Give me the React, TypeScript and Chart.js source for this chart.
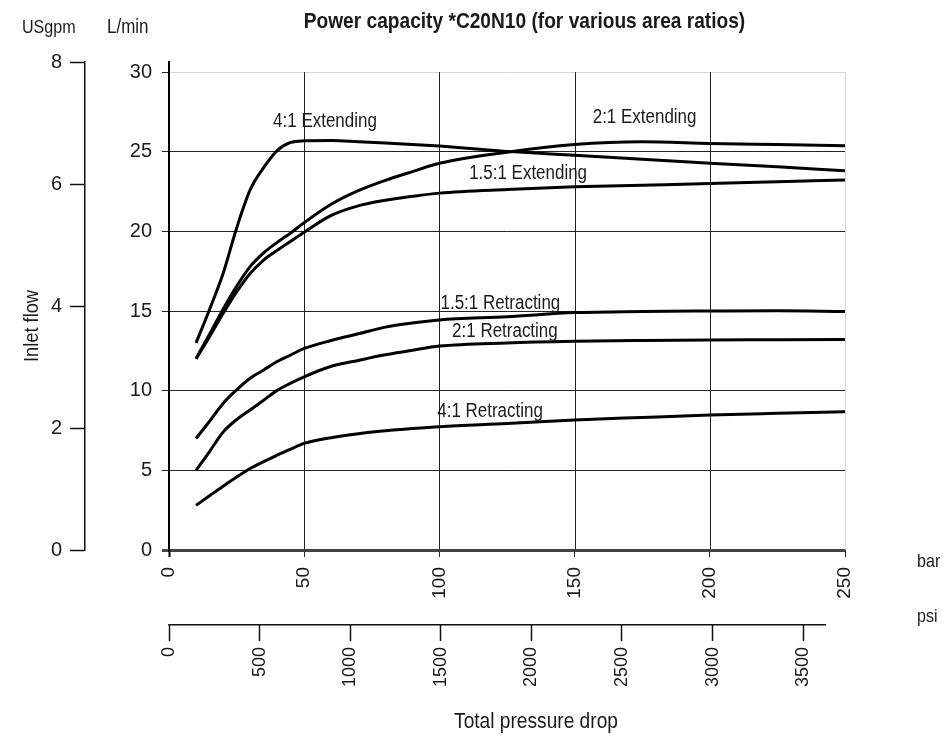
import React, { useEffect, useRef } from 'react';
import { Chart, registerables } from 'chart.js';

Chart.register(...registerables);

// ---- data (bar pressure drop -> inlet flow L/min) ----
const pressureBar = [10, 15, 20, 25, 30, 35, 40, 45, 50, 60, 70, 80, 90, 100, 125, 150, 175, 200, 225, 250];
const ext4to1 = [13.0, 15.1, 17.35, 20.2, 22.6, 24.0, 25.07, 25.58, 25.68, 25.7, 25.63, 25.55, 25.45, 25.35, 25.02, 24.77, 24.53, 24.28, 24.05, 23.8];
const ext2to1 = [12.0, 13.55, 15.11, 16.55, 17.79, 18.65, 19.31, 19.9, 20.55, 21.7, 22.55, 23.2, 23.75, 24.27, 24.97, 25.45, 25.62, 25.52, 25.45, 25.38];
const ext15to1 = [12.0, 13.39, 14.84, 16.2, 17.36, 18.2, 18.81, 19.38, 19.95, 21.0, 21.6, 21.95, 22.2, 22.4, 22.63, 22.8, 22.9, 23.0, 23.12, 23.23];
const ret15to1 = [7.0, 8.08, 9.2, 10.05, 10.78, 11.3, 11.83, 12.24, 12.65, 13.15, 13.57, 13.99, 14.25, 14.44, 14.64, 14.9, 14.97, 15.0, 15.02, 14.97];
const ret2to1 = [5.0, 6.18, 7.4, 8.18, 8.79, 9.4, 10.02, 10.47, 10.87, 11.53, 11.9, 12.25, 12.54, 12.8, 13.0, 13.1, 13.15, 13.18, 13.2, 13.22];
const ret4to1 = [2.8, 3.4, 4.0, 4.58, 5.12, 5.55, 5.96, 6.33, 6.69, 7.05, 7.3, 7.48, 7.62, 7.74, 7.94, 8.16, 8.32, 8.47, 8.58, 8.68];

const seriesNames = ['4:1 Extending', '2:1 Extending', '1.5:1 Extending', '1.5:1 Retracting', '2:1 Retracting', '4:1 Retracting'];
const seriesValues = [ext4to1, ext2to1, ext15to1, ret15to1, ret2to1, ret4to1];

// curve label anchors in data units (bar, L/min)
const labelBar = [38.5, 156.7, 111.0, 100.4, 104.7, 99.2];
const labelFlow = [26.57, 26.78, 23.27, 15.11, 13.35, 8.37];

// axis ticks
const barTicks = [0, 50, 100, 150, 200, 250];
const psiTicks = [0, 500, 1000, 1500, 2000, 2500, 3000, 3500];
const psiMax = 3731;
const psiLineEnd = 3627;
const flowMax = 30.63;
const gpmMax = 8;

const FONT = "'Liberation Sans', Arial, sans-serif";
const TEXT = '#1a1a1a';
const SQUEEZE = 0.87;

function squeezedText(ctx: any, text: string, x: number, y: number, align: 'left' | 'center') {
  ctx.save();
  ctx.translate(x, y);
  ctx.scale(SQUEEZE, 1);
  ctx.textAlign = align;
  ctx.fillText(text, 0, 0);
  ctx.restore();
}

const decorPlugin = {
  id: 'decor',
  beforeDatasetsDraw(chart: any) {
    const { ctx, scales } = chart;
    const x = scales.x, y = scales.y, psi = scales.psi;
    ctx.save();
    const yTop = y.getPixelForValue(30);
    const yBot = y.getPixelForValue(0);
    barTicks.forEach((v) => {
      if (v === 0) return;
      const px = Math.round(x.getPixelForValue(v)) + 0.5;
      ctx.strokeStyle = v === 250 ? '#d6d6d6' : '#222';
      ctx.lineWidth = 1;
      ctx.beginPath();
      ctx.moveTo(px, yTop);
      ctx.lineTo(px, yBot - 1);
      ctx.stroke();
    });
    // psi axis line
    ctx.strokeStyle = '#111';
    ctx.lineWidth = 1.5;
    ctx.beginPath();
    ctx.moveTo(psi.getPixelForValue(0) - 0.75, psi.top + 0.75);
    ctx.lineTo(psi.getPixelForValue(psiLineEnd), psi.top + 0.75);
    ctx.stroke();
    ctx.restore();
  },
  afterDraw(chart: any) {
    const { ctx, scales } = chart;
    const x = scales.x, y = scales.y;
    ctx.save();
    ctx.fillStyle = TEXT;
    ctx.textBaseline = 'alphabetic';
    // curve labels
    ctx.font = `19.5px ${FONT}`;
    seriesNames.forEach((name, i) => {
      squeezedText(ctx, name, x.getPixelForValue(labelBar[i]), y.getPixelForValue(labelFlow[i]), 'left');
    });
    // unit labels
    ctx.font = `18.5px ${FONT}`;
    squeezedText(ctx, 'USgpm', 22, 33, 'left');
    ctx.font = `19.5px ${FONT}`;
    squeezedText(ctx, 'L/min', 107, 33, 'left');
    ctx.font = `18.5px ${FONT}`;
    squeezedText(ctx, 'bar', 917, 567, 'left');
    squeezedText(ctx, 'psi', 917, 622, 'left');
    // title
    ctx.font = `bold 22px ${FONT}`;
    squeezedText(ctx, 'Power capacity *C20N10 (for various area ratios)', 524.5, 28, 'center');
    // x title
    ctx.font = `22px ${FONT}`;
    squeezedText(ctx, 'Total pressure drop', 536, 728, 'center');
    // y title (rotated)
    ctx.font = `21px ${FONT}`;
    ctx.translate(38, 326);
    ctx.rotate(-Math.PI / 2);
    squeezedText(ctx, 'Inlet flow', 0, 0, 'center');
    ctx.restore();
  },
};

export default function App() {
  const ref = useRef<HTMLCanvasElement | null>(null);

  useEffect(() => {
    if (!ref.current) return;
    const datasets = seriesNames.map((name, i) => ({
      label: name,
      data: pressureBar.map((p, j) => ({ x: p, y: seriesValues[i][j] })),
      borderColor: '#000',
      borderWidth: 3,
      pointRadius: 0,
      fill: false,
      cubicInterpolationMode: 'monotone' as const,
      xAxisID: 'x',
      yAxisID: 'y',
    }));

    const chart = new Chart(ref.current, {
      type: 'line',
      data: { datasets },
      plugins: [decorPlugin],
      options: {
        animation: false,
        responsive: false,
        devicePixelRatio: 1,
        layout: { padding: { left: 0, top: 62, right: 100, bottom: 0 } },
        plugins: { legend: { display: false }, tooltip: { enabled: false }, title: { display: false } },
        scales: {
          x: {
            type: 'linear',
            position: 'bottom',
            weight: 0,
            min: 0,
            max: 250,
            afterFit: (s: any) => { s.height = 74; },
            afterBuildTicks: (s: any) => { s.ticks = barTicks.map((v) => ({ value: v })); },
            border: { display: false },
            grid: {
              drawOnChartArea: false,
              drawTicks: true,
              tickLength: 7,
              tickColor: (c: any) => (c.tick && c.tick.value === 0 ? '#000' : '#222'),
              tickWidth: (c: any) => (c.tick && c.tick.value === 0 ? 2 : 1),
              color: '#222',
            },
            ticks: {
              minRotation: 90,
              maxRotation: 90,
              padding: 10,
              autoSkip: false,
              color: TEXT,
              font: { family: FONT, size: 19 },
              callback: (v: any) => String(v),
            },
          },
          psi: {
            type: 'linear',
            position: 'bottom',
            weight: 1,
            min: 0,
            max: psiMax,
            afterFit: (s: any) => { s.height = 114; },
            afterBuildTicks: (s: any) => { s.ticks = psiTicks.map((v) => ({ value: v })); },
            border: { display: false },
            grid: {
              drawOnChartArea: false,
              drawTicks: true,
              tickLength: 17,
              tickColor: '#111',
              tickWidth: 1.5,
            },
            ticks: {
              minRotation: 90,
              maxRotation: 90,
              padding: 6,
              autoSkip: false,
              color: TEXT,
              font: { family: FONT, size: 18 },
              callback: (v: any) => String(v),
            },
          },
          y: {
            type: 'linear',
            position: 'left',
            weight: 0,
            min: 0,
            max: flowMax,
            afterFit: (s: any) => { s.width = 84; },
            border: { display: true, color: '#000', width: 2 },
            grid: {
              drawOnChartArea: true,
              drawTicks: true,
              tickLength: 7,
              color: (c: any) => {
                const v = c.tick ? c.tick.value : -1;
                if (v === 30) return '#d6d6d6';
                if (v === 0) return '#444';
                return '#222';
              },
              lineWidth: (c: any) => (c.tick && c.tick.value === 0 ? 3 : 1),
              tickColor: (c: any) => (c.tick && c.tick.value === 0 ? '#444' : '#222'),
              tickWidth: (c: any) => (c.tick && c.tick.value === 0 ? 3 : 1),
            },
            ticks: {
              stepSize: 5,
              includeBounds: false,
              padding: 10,
              color: TEXT,
              font: { family: FONT, size: 20 },
              callback: (v: any) => String(v),
            },
          },
          gpm: {
            type: 'linear',
            position: 'left',
            weight: 1,
            min: 0,
            max: gpmMax,
            afterFit: (s: any) => { s.width = 85; },
            border: { display: true, color: '#111', width: 1.5 },
            grid: {
              drawOnChartArea: false,
              drawTicks: true,
              tickLength: 15,
              tickColor: '#111',
              tickWidth: 1.5,
            },
            ticks: {
              stepSize: 2,
              padding: 8,
              color: TEXT,
              font: { family: FONT, size: 20 },
              callback: (v: any) => String(v),
            },
          },
        },
      } as any,
    });
    return () => chart.destroy();
  }, []);

  return (
    <div style={{ position: 'absolute', left: 0, top: 0, width: 945, height: 738, background: '#fff' }}>
      <canvas ref={ref} width={945} height={738} style={{ display: 'block', width: 945, height: 738 }} />
    </div>
  );
}
